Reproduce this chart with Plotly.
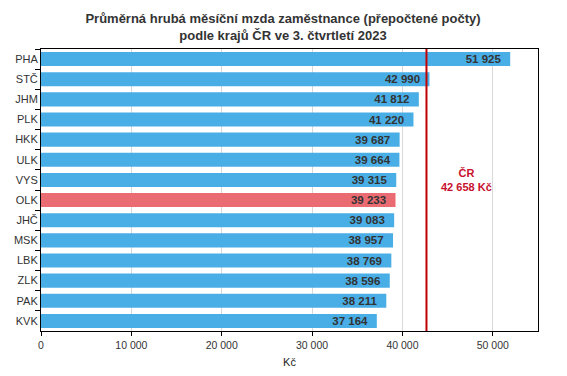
import plotly.graph_objects as go

regions = ["PHA", "STČ", "JHM", "PLK", "HKK", "ULK", "VYS", "OLK", "JHČ", "MSK", "LBK", "ZLK", "PAK", "KVK"]
wages = [51925, 42990, 41812, 41220, 39687, 39664, 39315, 39233, 39083, 38957, 38769, 38596, 38211, 37164]
highlight = "OLK"
cr_avg = 42658
tick_vals = [0, 10000, 20000, 30000, 40000, 50000]
tick_text = ["0", "10 000", "20 000", "30 000", "40 000", "50 000"]

def fmt(v):
    return f"{v:,}".replace(",", " ")

colors = ["#EB6B73" if r == highlight else "#49AEE6" for r in regions]

fig = go.Figure()
fig.add_trace(go.Bar(
    y=regions, x=wages, orientation="h",
    marker=dict(color=colors, line=dict(width=0)),
    text=[fmt(v) + "\u00a0\u00a0" for v in wages], textposition="inside", insidetextanchor="end",
    textfont=dict(family="Liberation Sans, Arial", size=11.5, color="#333333", weight="bold"),
    cliponaxis=False, hoverinfo="skip",
))
fig.add_shape(type="line", x0=cr_avg, x1=cr_avg, y0=0, y1=1, xref="x", yref="paper",
              line=dict(color="#C00000", width=2))
fig.add_annotation(x=47050, y=0.535, xref="x", yref="paper",
                   text="ČR<br>42 658 Kč", showarrow=False,
                   font=dict(family="Liberation Sans, Arial", size=11, color="#C8102E", weight="bold"),
                   align="center")

fig.update_layout(
    width=559, height=368,
    margin=dict(l=33, r=29, t=41, b=45),
    paper_bgcolor="white", plot_bgcolor="white",
    bargap=0.3,
    showlegend=False,
    font=dict(family="Liberation Sans, Arial", size=11, color="#333333"),
    title=dict(text="<b>Průměrná hrubá měsíční mzda zaměstnance (přepočtené počty)<br>podle krajů ČR ve 3. čtvrtletí 2023</b>",
               x=275/559, xanchor="center", y=1 - 15/368, yanchor="top",
               font=dict(family="Liberation Sans, Arial", size=13, color="#333333")),
    uniformtext=dict(minsize=8, mode="show"),
)
fig.update_xaxes(range=[0, 55000], tickvals=tick_vals, ticktext=tick_text, automargin=False,
                 showgrid=True, gridcolor="#D9D9D9", gridwidth=1,
                 showline=True, linecolor="black", linewidth=1, mirror=True,
                 ticks="outside", ticklen=4, tickcolor="black",
                 title=dict(text="Kč", font=dict(size=11, color="#222222"), standoff=8),
                 tickfont=dict(size=10.5, color="#333333"), zeroline=False)
fig.update_yaxes(categoryorder="array", categoryarray=regions, autorange="reversed", automargin=False,
                 showline=True, linecolor="black", linewidth=1, mirror=True,
                 ticks="outside", ticklen=5, tickcolor="black", tickson="boundaries",
                 tickfont=dict(size=11, color="#333333"), showgrid=False)

fig.write_html("out.html")
